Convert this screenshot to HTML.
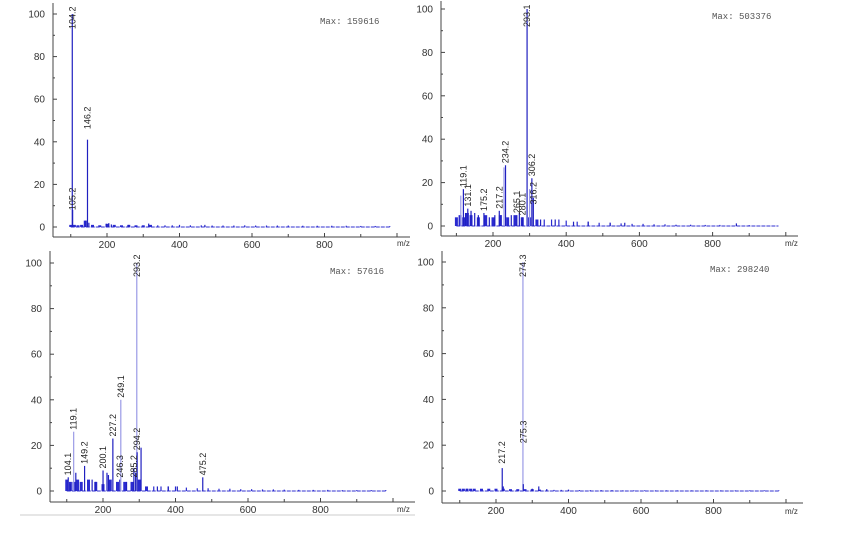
<!DOCTYPE html>
<html><head><meta charset="utf-8"><style>
html,body{margin:0;padding:0;background:#fff;}
svg{display:block;font-family:"Liberation Sans",sans-serif;}
</style></head><body>
<svg id="c" width="845" height="546" viewBox="0 0 845 546">
<line x1="20" y1="515" x2="415" y2="515" stroke="#ccc" stroke-width="1"/>
</svg>
<script>
// Panel 1 data
const p1Mz=[104.2,105.2,146.2,142,150,198,205,212,260,315,470];
const p1Int=[100,8,41,3,2,1.5,1.8,1.2,1,1.6,1];
const p1Labels=["104.2","105.2","146.2"];
const p1LabelMz=[104.2,105.2,146.2];
const p1LabelAt=[101,7,45];
// Panel 2 data
const p2Mz=[112,119.1,125,131.1,140,150,160,175.2,190,205,217.2,222,230,234.2,250,265.1,272,280.1,293.1,300,306.2,310.2,330,370,420,460,520,560,865];
const p2Int=[14,17,6,8,7,6,5,6,4,5,7,5,27,28,5,5,6,4,100,17,22,13,3,3,2,2,1.5,1.5,1.2];
const p2Labels=["119.1","131.1","175.2","217.2","234.2","265.1","280.1","293.1","306.2","316.2"];
const p2LabelMz=[119.1,131.1,175.2,217.2,234.2,265.1,280.1,293.1,306.2,310.2];
const p2LabelAt=[17,8,6,7,28,5,4,101,22,9];
// Panel 3 data
const p3Mz=[104.1,110,119.1,125,149.2,170,180,200.1,211,215,227.2,246.3,249.1,265,285.2,290,293.2,294.2,305,350,380,405,475.2];
const p3Int=[6,3,26,8,11,5,4,9,8,7,23,5,40,4,10,8,100,17,19,2,2,2,6];
const p3Labels=["104.1","119.1","149.2","200.1","227.2","246.3","249.1","285.2","293.2","294.2","475.2"];
const p3LabelMz=[104.1,119.1,149.2,200.1,227.2,246.3,249.1,285.2,293.2,294.2,475.2];
const p3LabelAt=[6,26,11,9,23,5,40,5,101,17,6];
// Panel 4 data
const p4Mz=[120,217.2,220,274.3,275.3,300,318,340,400];
const p4Int=[1,10,2,100,3,1,2,0.8,0.6];
const p4Labels=["217.2","274.3","275.3"];
const p4LabelMz=[217.2,274.3,275.3];
const p4LabelAt=[11,101,20];
// Baseline noise (m/z, intensity)
const noiseMz=[100,110,120,130,140,160,180,200,220,240,260,280,300,320,340,360,380,400,430,460,490,520,550,580,610,640,670,700,740,780,820,860,900,940,980];
const noiseP1=[1,1,0.8,1,3,1,0.8,1.5,1,0.8,1,0.8,0.8,1,0.8,0.8,0.8,1,0.8,0.8,0.7,0.7,0.7,0.8,0.7,0.7,0.7,0.7,0.6,0.6,0.6,0.6,0.5,0.5,0.4];
const noiseP2=[4,5,4,6,5,4,5,4,5,4,5,4,4,3,3,3,3,2.5,2,2,1.5,1.5,1.2,1,1,0.8,0.8,0.6,0.6,0.5,0.5,0,0.4,0,0];
const noiseP3=[5,4,4,5,4,5,4,3,5,4,4,4,5,2,2,2,2,2,1.5,1.2,1.2,1,1,0.8,0.8,0.7,0.7,0.6,0.5,0.5,0.5,0.4,0.4,0.4,0.4];
const noiseP4=[1,1,1,1,1,1,1,1,1,0.8,0.8,0.8,0.8,0.6,0.6,0.5,0.5,0.5,0.4,0.4,0.4,0.4,0.3,0.3,0.3,0.3,0.3,0.3,0.3,0.3,0.3,0.3,0.3,0.3,0.3];
const yTicks=[0,20,40,60,80,100];
const xTicks=[200,400,600,800];
const maxTexts=["Max: 159616","Max: 503376","Max: 57616","Max: 298240"];

const NS="http://www.w3.org/2000/svg";
const svg=document.getElementById('c');
function mk(tag,attrs,parent){const e=document.createElementNS(NS,tag);for(const k in attrs)e.setAttribute(k,attrs[k]);(parent||svg).appendChild(e);return e;}

const panels=[
 {ax:53,axY:237,zeroY:227,topY:14,x200:107,ppu:0.3625,xEnd:410,topEdge:3,mzX:397,mzY:246,maxX:320,maxY:24,mz:p1Mz,it:p1Int,lb:p1Labels,lbMz:p1LabelMz,lbAt:p1LabelAt,noise:noiseP1,light:[]},
 {ax:441,axY:236,zeroY:226,topY:9,x200:493,ppu:0.366,xEnd:798,topEdge:1,mzX:785,mzY:246,maxX:712,maxY:19,mz:p2Mz,it:p2Int,lb:p2Labels,lbMz:p2LabelMz,lbAt:p2LabelAt,noise:noiseP2,light:[112,230,300]},
 {ax:50,axY:502,zeroY:491,topY:263,x200:103,ppu:0.3625,xEnd:415,topEdge:251,mzX:397,mzY:512,maxX:330,maxY:274,mz:p3Mz,it:p3Int,lb:p3Labels,lbMz:p3LabelMz,lbAt:p3LabelAt,noise:noiseP3,light:[119.1,249.1,293.2]},
 {ax:442,axY:503,zeroY:491,topY:262,x200:496,ppu:0.3625,xEnd:803,topEdge:251,mzX:785,mzY:514,maxX:710,maxY:272,mz:p4Mz,it:p4Int,lb:p4Labels,lbMz:p4LabelMz,lbAt:p4LabelAt,noise:noiseP4,light:[274.3]}
];

panels.forEach((p,i)=>{
  const g=mk('g',{});
  
  
  const X=m=>p.x200+(m-200)*p.ppu;
  const Y=v=>p.zeroY-(v/100)*(p.zeroY-p.topY);
  // axes
  const ya=mk('line',{x1:p.ax,y1:p.topEdge,x2:p.ax,y2:p.axY,stroke:'#444','stroke-width':1},g);
  
  
  const xa=mk('line',{x1:p.ax,y1:p.axY,x2:p.xEnd,y2:p.axY,stroke:'#444','stroke-width':1},g);
  
  
  for(let v=0;v<=100;v+=10){const y=Y(v);mk('line',{x1:p.ax,y1:y,x2:p.ax+(v%20===0?4:2),y2:y,stroke:'#444'},g);}
  yTicks.forEach(v=>{const t=mk('text',{x:p.ax-8,y:Y(v)+3.5,'text-anchor':'end','font-size':10,fill:'#333'},g);t.textContent=v;
    
    });
  for(let m=100;m<=1000;m+=100){const x=X(m);if(x>p.xEnd)break;mk('line',{x1:x,y1:p.axY,x2:x,y2:p.axY-(m%200===0?4:3),stroke:'#444'},g);}
  xTicks.forEach(m=>{const t=mk('text',{x:X(m),y:p.axY+11,'text-anchor':'middle','font-size':10,fill:'#333'},g);t.textContent=m;
    
    });
  const mzt=mk('text',{x:p.mzX,y:p.mzY,'font-size':8,fill:'#333'},g);mzt.textContent='m/z';
  
  
  const mt=mk('text',{x:p.maxX,y:p.maxY,'font-size':9,fill:'#555','font-family':'Liberation Mono, monospace'},g);mt.textContent=maxTexts[i];
  
  
  // baseline
  const endM=980;
  mk('line',{x1:X(100),y1:p.zeroY,x2:X(endM),y2:p.zeroY,stroke:'#3030d0','stroke-width':1,'stroke-dasharray':'4 1'},g);
  // noise
  noiseMz.forEach((m,k)=>{const v=p.noise[k];if(v<=0)return;
    const n=mk('line',{x1:X(m),y1:p.zeroY,x2:X(m),y2:Y(v),stroke:'#2a2ad0','stroke-width':(m<340?3:1.2)},g);
    
    });
  // peaks
  p.mz.forEach((m,k)=>{
    const light=p.light.indexOf(m)>=0;
    const l=mk('line',{x1:X(m),y1:p.zeroY,x2:X(m),y2:Y(p.it[k]),stroke:light?'#9a9ae6':'#2020c0','stroke-width':1.2},g);
    
    
  });
  // labels
  p.lb.forEach((s,k)=>{
    const x=X(p.lbMz[k])+3;
    let yb=Y(p.lbAt[k])-2;
    const len=s.length*5.2;
    if(yb-len<p.topEdge)yb=p.topEdge+len;
    const t=mk('text',{x:0,y:0,'font-size':9,fill:'#222',transform:`translate(${x},${yb}) rotate(-90)`},g);
    t.textContent=s;
    
    
  });
});
</script>
</body></html>
